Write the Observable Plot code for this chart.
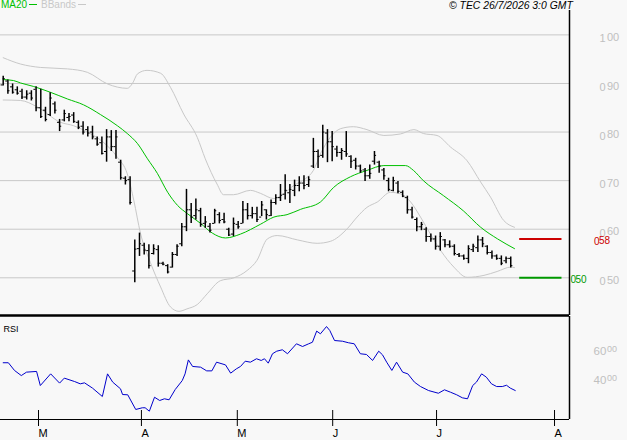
<!DOCTYPE html>
<html><head><meta charset="utf-8">
<script src="https://cdn.jsdelivr.net/npm/d3@7"></script>
<script src="https://cdn.jsdelivr.net/npm/@observablehq/plot@0.6"></script>
<style>
html,body{margin:0;padding:0;background:#f8f8f8;}
#wrap{position:relative;width:627px;height:440px;overflow:hidden;font-family:"Liberation Sans",Arial,sans-serif;background:#f8f8f8;}
#wrap svg{display:block;}
.leg{position:absolute;top:0px;font-size:10px;line-height:10px;white-space:nowrap;}
.leg i{display:inline-block;width:8px;height:0;vertical-align:middle;margin-left:2px;position:relative;top:-1px;}
#cap{position:absolute;top:0px;left:449px;font-size:10.4px;font-style:italic;line-height:11px;color:#000;white-space:nowrap;}
</style></head><body><div id="wrap">
<div class="leg" style="left:1px;color:#00c000">MA20<i style="border-top:1px solid #00c000"></i></div>
<div class="leg" style="left:41px;color:#c8c8c8">BBands<i style="border-top:1px solid #c8c8c8"></i></div>
<div id="cap">© TEC 26/7/2026 3:0 GMT</div>
</div>
<script>
// ---- OHLC bars (bar index 0..108) ----
const open = [0.897,0.905,0.893,0.887,0.884,0.872,0.880,0.888,0.850,0.845,
 0.836,0.858,0.820,0.825,0.830,0.835,0.820,0.812,0.805,0.800,
 0.786,0.778,0.760,0.790,0.770,0.738,0.705,0.702,0.514,0.560,
 0.567,0.556,0.550,0.558,0.530,0.525,0.522,0.548,0.570,0.605,
 0.640,0.628,0.638,0.612,0.606,0.612,0.630,0.620,0.600,0.590,
 0.610,0.612,0.640,0.628,0.632,0.625,0.640,0.628,0.655,0.665,
 0.672,0.675,0.680,0.690,0.695,0.692,0.730,0.760,0.752,0.798,
 0.780,0.765,0.758,0.760,0.750,0.742,0.730,0.722,0.710,0.740,
 0.738,0.722,0.700,0.680,0.695,0.676,0.665,0.640,0.620,0.605,
 0.600,0.585,0.580,0.565,0.578,0.568,0.565,0.548,0.545,0.540,
 0.558,0.562,0.578,0.565,0.552,0.545,0.540,0.535,0.540];
const high = [0.915,0.907,0.899,0.893,0.888,0.885,0.885,0.893,0.888,0.851,
 0.881,0.862,0.826,0.845,0.838,0.840,0.823,0.821,0.811,0.812,
 0.790,0.790,0.805,0.803,0.803,0.742,0.708,0.708,0.578,0.592,
 0.571,0.568,0.568,0.566,0.532,0.527,0.552,0.568,0.612,0.682,
 0.653,0.662,0.643,0.626,0.612,0.641,0.634,0.633,0.602,0.623,
 0.616,0.657,0.653,0.645,0.645,0.657,0.640,0.660,0.671,0.692,
 0.712,0.692,0.701,0.708,0.710,0.708,0.787,0.763,0.814,0.805,
 0.801,0.771,0.766,0.801,0.751,0.746,0.732,0.725,0.732,0.760,
 0.740,0.725,0.705,0.707,0.698,0.679,0.668,0.645,0.623,0.614,
 0.603,0.590,0.586,0.593,0.579,0.576,0.568,0.550,0.547,0.566,
 0.569,0.586,0.583,0.566,0.555,0.547,0.545,0.543,0.543];
const low = [0.895,0.878,0.878,0.876,0.867,0.866,0.864,0.842,0.828,0.821,
 0.832,0.837,0.801,0.821,0.821,0.818,0.805,0.794,0.790,0.784,
 0.771,0.753,0.738,0.760,0.744,0.701,0.691,0.650,0.490,0.544,
 0.547,0.518,0.547,0.522,0.525,0.508,0.520,0.544,0.564,0.595,
 0.612,0.619,0.604,0.602,0.592,0.611,0.611,0.611,0.585,0.585,
 0.600,0.611,0.619,0.621,0.614,0.626,0.619,0.626,0.650,0.657,
 0.660,0.653,0.667,0.677,0.681,0.686,0.725,0.725,0.746,0.737,
 0.739,0.748,0.742,0.748,0.725,0.722,0.715,0.698,0.703,0.732,
 0.715,0.701,0.677,0.677,0.673,0.665,0.631,0.621,0.595,0.597,
 0.573,0.573,0.557,0.555,0.562,0.561,0.545,0.542,0.536,0.529,
 0.552,0.552,0.562,0.547,0.538,0.536,0.525,0.529,0.520];
const close = [0.910,0.885,0.882,0.880,0.872,0.878,0.870,0.850,0.832,0.826,
 0.870,0.845,0.812,0.838,0.832,0.822,0.810,0.800,0.798,0.790,
 0.775,0.756,0.790,0.770,0.790,0.706,0.700,0.655,0.559,0.570,
 0.557,0.525,0.560,0.530,0.528,0.512,0.548,0.565,0.605,0.640,
 0.625,0.640,0.610,0.615,0.598,0.638,0.618,0.615,0.588,0.612,
 0.605,0.640,0.628,0.632,0.620,0.650,0.630,0.655,0.665,0.670,
 0.680,0.682,0.690,0.695,0.690,0.702,0.760,0.750,0.800,0.780,
 0.770,0.758,0.762,0.755,0.740,0.730,0.720,0.710,0.715,0.752,
 0.730,0.710,0.682,0.700,0.678,0.668,0.640,0.625,0.605,0.610,
 0.585,0.580,0.565,0.585,0.568,0.565,0.550,0.545,0.540,0.560,
 0.565,0.578,0.570,0.552,0.545,0.540,0.530,0.540,0.525];

// ---- MA20 (read points: bar index, value) ----
const maIdx = [0,2.2,3.7,6.4,10,13.7,17.1,20.7,24.3,26.4,28.6,30.7,32.8,35,37.1,39.2,42,44.5,47.3,50.5,54.7,57.6,60.4,63.3,67.5,70.3,73.9,77.4,81,85.6,87.3,89.4,93.7,97.9,101.6,105.2,108.8];
const maVal = [.908,.906,.901,.894,.882,.868,.856,.836,.813,.797,.776,.745,.715,.676,.649,.632,.612,.592,.582,.590,.610,.625,.630,.641,.656,.686,.708,.721,.731,.731,.721,.700,.669,.638,.604,.580,.560];

// ---- Bollinger bands ----
const bbUpIdx = [0,3.7,7.9,13.7,17.9,22.2,26.4,27.5,28.6,30.6,33.5,35.6,38.4,41.3,43,45.5,46.9,49,52.6,54.7,57.6,59.7,61.8,64.3,66,67.5,69.6,71.8,74.5,77.4,81,84.5,87.4,89.4,92.3,95.2,98.7,101.6,103.7,106.5,108.8];
const bbUpVal = [.953,.940,.933,.930,.923,.899,.890,.900,.920,.927,.921,.892,.837,.789,.745,.693,.671,.671,.680,.674,.663,.673,.690,.704,.721,.755,.789,.807,.811,.805,.793,.796,.805,.797,.793,.769,.741,.697,.666,.618,.604];
const bbLoIdx = [0,3.7,7.2,12.2,15,17.9,21.3,24.3,26.4,27.8,29.2,31.3,33.5,35.6,37.4,39.1,41.3,43.4,46.2,49.1,51.9,54,56.2,58.3,62.6,66.8,69.6,73.2,75.3,77.4,79.6,82.4,84.5,86.7,88.8,90.9,93.1,95.9,98.7,102.3,105.1,108,108.8];
const bbLoVal = [.866,.865,.852,.820,.813,.800,.779,.748,.714,.659,.592,.532,.481,.440,.431,.436,.445,.467,.494,.500,.515,.536,.580,.587,.578,.571,.575,.601,.625,.645,.656,.676,.673,.656,.625,.590,.556,.522,.501,.505,.513,.522,.521];

// ---- RSI ----
const rsiIdx = [0,1.1,2.4,3.85,4.96,7.1,7.9,10.1,12.0,13.0,15.2,16.4,17.3,19.0,21.1,22.2,23.3,24.96,25.4,26.5,28.2,29.6,30.2,31.1,32.2,33.3,34.3,35.3,36.6,38.1,38.7,39.4,40.3,42.0,43.3,44.4,45.4,47.3,48.4,49.6,50.5,51.5,52.6,53.9,54.9,55.6,56.4,57.3,58.2,59.4,60.5,62.4,63.7,65.0,65.8,66.7,67.5,68.8,69.5,70.5,72.2,73.5,74.7,76.0,77.3,78.6,79.9,80.7,81.6,82.7,83.7,85.0,86.1,87.5,88.8,90.5,92.6,93.9,95.2,96.5,97.7,98.8,99.9,100.7,101.8,102.8,103.9,105.0,106.2,107.1,107.9,108.96];
const rsiVal = [48.6,48.6,43.2,39.6,42.0,42.5,32.6,40.8,34.3,37.8,35.4,33.8,34.5,30.8,24.9,40.8,35.0,30.3,26.3,26.1,15.8,17.0,17.0,14.6,24.4,22.1,23.3,22.6,29.8,36.1,40.8,50.6,46.0,45.5,42.9,42.9,49.0,47.1,41.3,44.3,46.0,49.7,49.0,51.4,50.2,51.4,48.3,54.9,56.7,57.7,54.9,61.9,60.0,61.9,63.0,70.8,68.9,74.0,71.2,64.2,63.7,62.6,61.9,54.9,54.4,50.2,56.7,54.2,49.0,43.2,49.0,42.0,40.8,35.0,31.9,29.1,27.2,29.6,27.9,26.1,24.0,23.3,32.6,35.0,40.8,38.5,33.8,31.9,31.9,32.8,30.8,29.1];

// ---- ticks & levels ----
const priceTicks = [0.5,0.6,0.7,0.8,0.9,1.0];
const rsiTicks = [40,60];
const monthTickIdx = [7.3,29.2,49.6,69.9,92,117.1];
const monthLabels = ["M","A","M","J","J","A"];
const levelValues = [0.58,0.50];

// ---- build tables ----
const bars = open.map((o,i)=>({i, open:o, high:high[i], low:low[i], close:close[i]}));
const ma = maIdx.map((i,k)=>({i, v:maVal[k]}));
const bbUp = bbUpIdx.map((i,k)=>({i, v:bbUpVal[k]}));
const bbLo = bbLoIdx.map((i,k)=>({i, v:bbLoVal[k]}));
const rsi = rsiIdx.map((i,k)=>({i, v:rsiVal[k]}));
const lastI = bars.length - 1;
const levelStyle = [{c:"#cc0000", dx0:24.5, dx1:29.5, dy0:2.5, dy1:1.5}, {c:"#009900", dx0:1, dx1:6, dy0:2, dy1:1.5}];
const levels = levelValues.map((v,k)=>({v, ...levelStyle[k]}));

const intPart = v => String(Math.floor(v + 1e-9));
const decPart = v => String(Math.round((v - Math.floor(v + 1e-9)) * 100)).padStart(2,"0");

const xDomain = [-0.574, 120.5];
const yDomain = [0.4224, 1.0502];
const rsiDomain = [8.77, 81.05];
const font = "'Liberation Sans', Arial, sans-serif";
const tick = 0.45;

function levelText(k){
  const L = [levels[k]];
  return [
    Plot.text(L, {y: "v", frameAnchor: "right", text: d => intPart(d.v), dx: levels[k].dx0, dy: levels[k].dy0, textAnchor: "start", fill: levels[k].c, fontSize: 10}),
    Plot.text(L, {y: "v", frameAnchor: "right", text: d => decPart(d.v), dx: levels[k].dx1, dy: levels[k].dy1, textAnchor: "start", fill: levels[k].c, fontSize: 10})
  ];
}

const main = Plot.plot({
  width: 627, height: 316,
  marginLeft: 0, marginRight: 58, marginTop: 10, marginBottom: 1,
  x: {domain: xDomain, axis: null},
  y: {domain: yDomain, axis: null},
  style: {background: "transparent", fontFamily: font, overflow: "visible"},
  marks: [
    Plot.ruleY(priceTicks, {stroke: "#c8c8c8", strokeWidth: 1}),
    Plot.line(bbUp, {x: "i", y: "v", stroke: "#c8c8c8", strokeWidth: 1, curve: "monotone-x"}),
    Plot.line(bbLo, {x: "i", y: "v", stroke: "#c8c8c8", strokeWidth: 1, curve: "monotone-x"}),
    Plot.line(ma, {x: "i", y: "v", stroke: "#00c000", strokeWidth: 1, curve: "monotone-x"}),
    Plot.ruleX(bars, {x: "i", y1: "low", y2: "high", stroke: "#000", strokeWidth: 1.5}),
    Plot.ruleY(bars, {y: "open", x1: d => d.i - tick, x2: d => d.i, stroke: "#000", strokeWidth: 1}),
    Plot.ruleY(bars, {y: "close", x1: d => d.i, x2: d => d.i + tick, stroke: "#000", strokeWidth: 1}),
    Plot.ruleY(levels, {y: "v", x1: () => lastI + 1.9, x2: () => lastI + 10.9, stroke: d => d.c, strokeWidth: 2}),
    Plot.ruleX([xDomain[1]], {stroke: "#000", strokeWidth: 1.5}),
    Plot.ruleY([yDomain[0]], {stroke: "#000", strokeWidth: 2.5}),
    Plot.text(priceTicks, {y: d => d, frameAnchor: "right", text: intPart, dx: 30, dy: 4, textAnchor: "start", fill: "#c0c0c0", fontSize: 11}),
    Plot.text(priceTicks, {y: d => d, frameAnchor: "right", text: decPart, dx: 37.5, dy: 2.5, textAnchor: "start", fill: "#c0c0c0", fontSize: 11}),
    ...levelText(0), ...levelText(1)
  ]
});

const rsiPlot = Plot.plot({
  width: 627, height: 124,
  marginLeft: 0, marginRight: 58, marginTop: 0, marginBottom: 21,
  x: {domain: xDomain},
  y: {domain: rsiDomain, axis: null},
  style: {background: "transparent", fontFamily: font, overflow: "visible"},
  marks: [
    Plot.line(rsi, {x: "i", y: "v", stroke: "#0000cc", strokeWidth: 1}),
    Plot.ruleX([xDomain[1]], {stroke: "#000", strokeWidth: 1.5}),
    Plot.ruleY([rsiDomain[0]], {stroke: "#000", strokeWidth: 1.2}),
    Plot.text(["RSI"], {frameAnchor: "top-left", dx: 3, dy: 9, fontSize: 9, fill: "#000", textAnchor: "start"}),
    Plot.text(rsiTicks, {y: d => d, frameAnchor: "right", text: d => String(d), dx: 24, dy: 5, textAnchor: "start", fill: "#c0c0c0", fontSize: 11.5}),
    Plot.text(rsiTicks, {y: d => d, frameAnchor: "right", text: () => "00", dx: 37.5, dy: 3, textAnchor: "start", fill: "#c0c0c0", fontSize: 9}),
    Plot.axisX({ticks: monthTickIdx, tickSize: 16, tickPadding: 3, label: null,
      tickFormat: d => monthLabels[monthTickIdx.indexOf(d)],
      textAnchor: "start", dx: 1, dy: -9, fontSize: 11, stroke: "#000", fill: "#000"})
  ]
});

const wrap = document.getElementById("wrap");
wrap.appendChild(main);
wrap.appendChild(rsiPlot);
</script></body></html>
